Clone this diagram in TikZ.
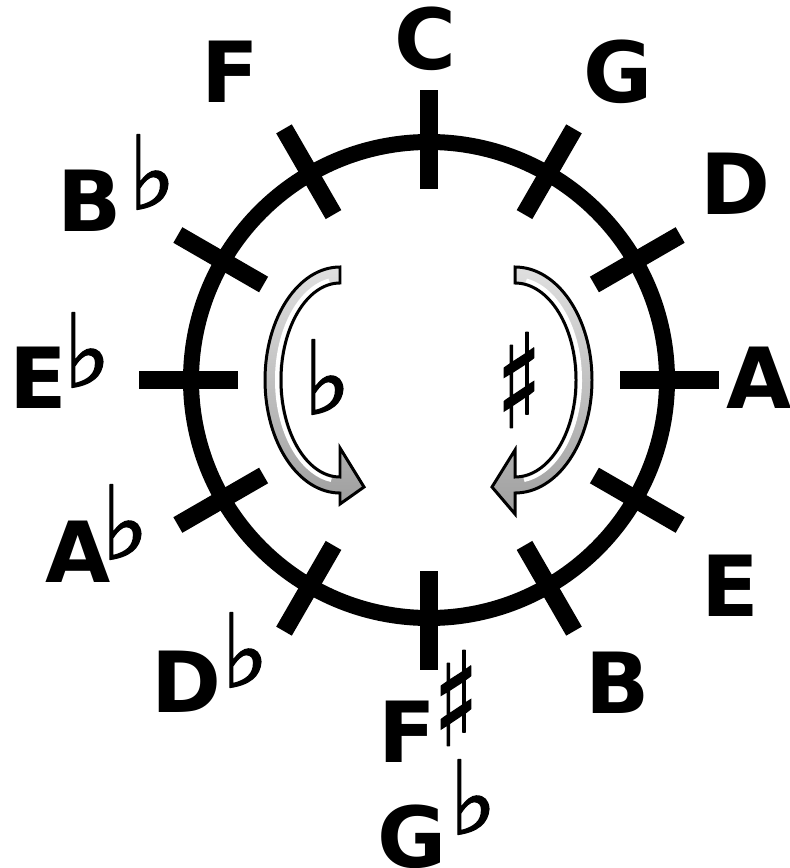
\documentclass[tikz,border=0pt]{standalone}
\usepackage{graphicx}
\usepackage{fontspec}
\setmainfont{DejaVu Sans}
\newfontfamily\signfont[FakeBold=1.4]{DejaVu Sans}
\newcommand{\narrowsharp}{\scalebox{0.72}[1]{♯}}
\usetikzlibrary{positioning}

\tikzset{
    note/.style={font=\fontsize{48}{48}\selectfont\bfseries, inner sep=0pt},
    accid/.style={font=\signfont\fontsize{58}{58}\selectfont, inner sep=0pt},
    sharpsign/.style={font=\signfont\fontsize{74}{74}\selectfont, inner sep=0pt},
    keymark/.style={line width=0.36cm},
    turn/.style={draw=black, line width=1.7pt, top color=gray!25, bottom color=gray!75},
    gleam/.style={white, line width=0.08cm}
}

\begin{document}
\begin{tikzpicture}[x=0.02cm, y=0.02cm]
    \useasboundingbox (0,0) rectangle (789,-868);
    \coordinate (O) at (429,-380);

    % ring and the twelve key marks
    \draw[line width=0.32cm] (O) circle (238);
    \foreach \a in {0,30,...,330}
        \draw[keymark, shift={(O)}] (\a:191) -- (\a:290);

    % flat side arrow
    \coordinate (lc) at (340,-380);
    \shade[turn] (340,-267) arc[start angle=90, end angle=270, x radius=75, y radius=113]
        -- (340,-504) -- (364,-487) -- (340,-448) -- (340,-477)
        arc[start angle=270, end angle=90, x radius=59, y radius=97] -- cycle;
    \draw[gleam] (lc) ++(100:63 and 101) arc[start angle=100, end angle=262, x radius=63, y radius=101];

    % sharp side arrow
    \coordinate (rc) at (515,-380);
    \shade[turn] (515,-267) arc[start angle=90, end angle=-90, x radius=77, y radius=113]
        -- (515,-514) -- (492,-487) -- (515,-450) -- (515,-477)
        arc[start angle=-90, end angle=90, x radius=61, y radius=97] -- cycle;
    \draw[gleam] (rc) ++(80:65 and 101) arc[start angle=80, end angle=-82, x radius=65, y radius=101];

    \node[accid] (flatturn) at (327,-377) {♭};
    \node[sharpsign] (sharpturn) at (519,-380) {\narrowsharp};

    % key names
    \node[note] (c) at (425,-39) {C};
    \node[note] (g) at (618,-72) {G};
    \node[note] (d) at (735,-184) {D};
    \node[note] (a) at (759,-378) {A};
    \node[note] (e) at (730,-586) {E};
    \node[note] (b) at (618,-683) {B};
    \node[note] (fs) at (407,-732) {F};
    \node[sharpsign] (fssign) at (456,-698) {\narrowsharp};
    \node[note] (gb) at (412,-837) {G};
    \node[accid] (gbsign) at (473,-797) {♭};
    \node[note] (db) at (186,-682) {D};
    \node[accid] (dbsign) at (245,-650) {♭};
    \node[note] (ab) at (78,-552) {A};
    \node[accid] (absign) at (125,-522) {♭};
    \node[note] (eb) at (38,-378) {E};
    \node[accid] (ebsign) at (87,-350) {♭};
    \node[note] (bb) at (90,-201) {B};
    \node[accid] (bbsign) at (152,-172) {♭};
    \node[note] (f) at (230,-72) {F};
\end{tikzpicture}
\end{document}
